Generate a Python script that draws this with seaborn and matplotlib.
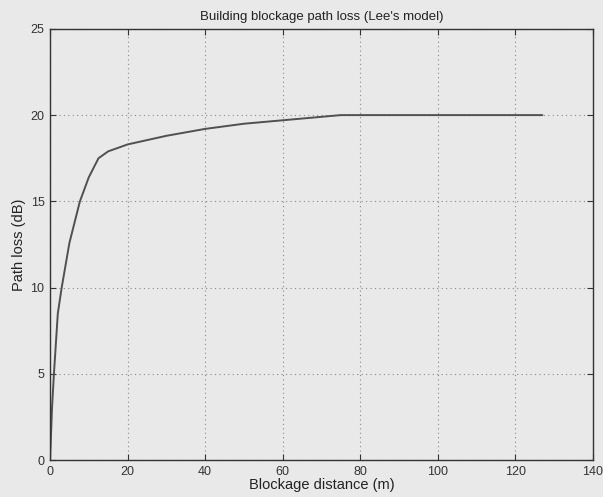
import matplotlib
matplotlib.use("Agg")
import matplotlib.pyplot as plt
import seaborn as sns
import pandas as pd

# Building blockage path loss curve (Lee's model)
distance_m = [0, 0.5, 1, 2, 3, 5, 7.7, 10, 12.5, 15, 20, 30, 40, 50, 60, 70, 75, 127]
loss_db = [0, 3.0, 5.0, 8.5, 10.0, 12.6, 15.0, 16.4, 17.5, 17.9, 18.3, 18.8, 19.2, 19.5, 19.7, 19.9, 20.0, 20.0]

x_ticks = [0, 20, 40, 60, 80, 100, 120, 140]
y_ticks = [0, 5, 10, 15, 20, 25]

df = pd.DataFrame({"distance": distance_m, "loss": loss_db})

sns.set_style("ticks")
bg = "#e9e9e9"
plt.rcParams["font.family"] = ["Liberation Sans", "DejaVu Sans"]

fig = plt.figure(figsize=(6.03, 4.97), dpi=100, facecolor=bg)
ax = fig.add_axes([0.083, 0.074, 0.900, 0.868])
ax.set_facecolor(bg)

sns.lineplot(data=df, x="distance", y="loss", ax=ax, color="#505050",
             linewidth=1.4, sort=False)

ax.set_xlim(0, 140)
ax.set_ylim(0, 25)
ax.set_xticks(x_ticks)
ax.set_yticks(y_ticks)
ax.grid(True, linestyle=(0, (1, 3)), color="#888888", linewidth=0.8)
ax.tick_params(direction="in", length=4, width=0.8, colors="#333333",
               labelsize=9, top=True, right=True, pad=4)
for s in ax.spines.values():
    s.set_visible(True)
    s.set_color("#333333")
    s.set_linewidth(1.0)

ax.set_title("Building blockage path loss (Lee's model)", fontsize=9.5,
             color="#222222", pad=6)
ax.set_xlabel("Blockage distance (m)", fontsize=10.5, color="#222222", labelpad=0)
ax.set_ylabel("Path loss (dB)", fontsize=10.5, color="#222222", labelpad=3)

fig.savefig("out.png", dpi=100, facecolor=bg)
